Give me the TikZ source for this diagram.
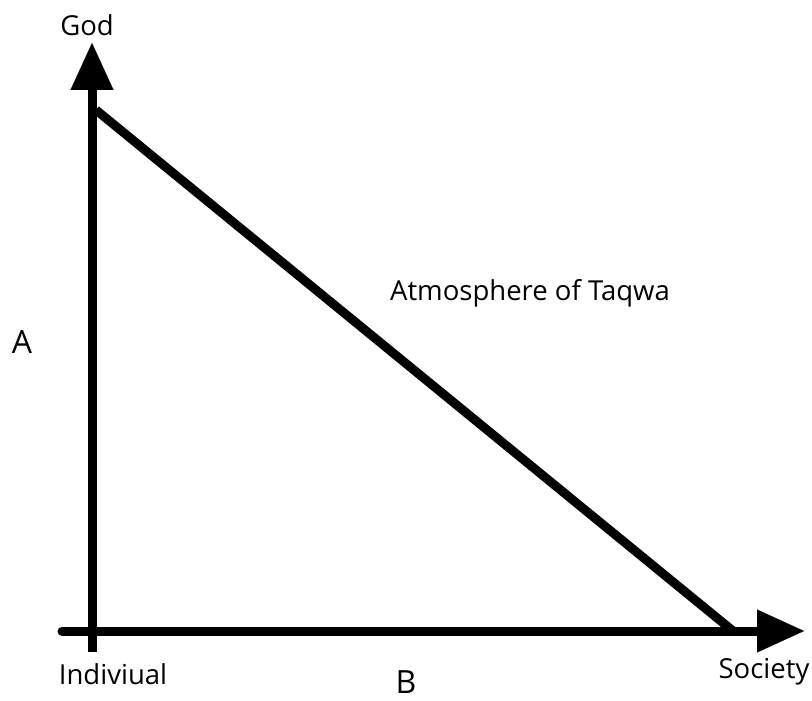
\documentclass[tikz,border=0pt]{standalone}
\usepackage{fontspec}
\setmainfont{Open Sans}
\usetikzlibrary{arrows.meta,positioning}

\tikzset{
  axis/.style={line width=9pt,-{Triangle[length=47pt,width=43pt,line width=0.1pt]}},
  slope/.style={line width=9pt,line cap=butt},
  lbl/.style={inner sep=0pt,font=\fontsize{27.5}{32}\selectfont},
  biglbl/.style={inner sep=0pt,text depth=0pt,font=\fontsize{32}{38}\selectfont}
}

\begin{document}
\begin{tikzpicture}[x=1pt,y=-1pt]
\useasboundingbox (0,0) rectangle (812,701);
% axis end points
\coordinate (top) at (92,43);
\coordinate (bottom) at (92,652);
\coordinate (left) at (62,631);
\coordinate (right) at (804,631);
% the slope
\coordinate (peak) at (96,110);
\coordinate (foot) at (733,631);
\draw[axis] (bottom) -- (top);
\draw[axis,line cap=round] (left) -- (right);
\draw[slope] (peak) -- (foot);
% labels
\node[lbl] (god) at (87,25) {God};
\node[lbl] (indiv) at (113,674) {Indiviual};
\node[lbl] (society) at (764,672) {Society};
\node[lbl] (taqwa) at (530,293) {Atmosphere of Taqwa};
\node[biglbl] (a) at (22,342) {A};
\node[biglbl] (b) at (406,682) {B};
\end{tikzpicture}
\end{document}
